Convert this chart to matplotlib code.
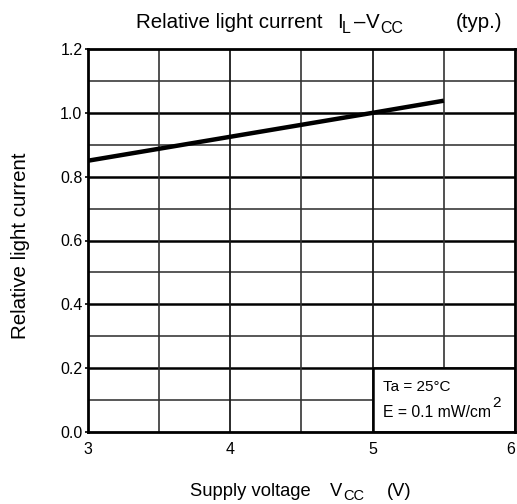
import matplotlib
matplotlib.use("Agg")
import matplotlib.pyplot as plt
from matplotlib.patches import Rectangle

plt.rcParams['font.family'] = ['Liberation Sans', 'DejaVu Sans']

# Data
supply_voltage = [3.0, 4.0, 5.0, 5.5]
relative_current = [0.85, 0.925, 1.0, 1.038]
x_ticks = [3, 4, 5, 6]
y_ticks = [0.0, 0.2, 0.4, 0.6, 0.8, 1.0, 1.2]
y_minor = [0.1, 0.3, 0.5, 0.7, 0.9, 1.1]
x_major_grid = [4, 5]
x_minor_grid = [3.5, 4.5, 5.5]

W, H = 517, 504
fig = plt.figure(figsize=(W / 100, H / 100), dpi=100)
ax = fig.add_axes([88 / W, 1 - 432 / H, 427 / W, 383 / H])
ax.set_xlim(3, 6)
ax.set_ylim(0, 1.2)


def put(x_px, base_px, s, size, **kw):
    """Place text with left edge at x_px and baseline at base_px (from top)."""
    return fig.text(x_px / W, 1 - base_px / H, s, fontsize=size,
                    ha='left', va='baseline', **kw)


for y in y_ticks[1:-1]:
    ax.axhline(y, color='black', lw=1.8, zorder=1)
for y in y_minor:
    ax.axhline(y, color='#4a4a4a', lw=1.3, zorder=1)
for x in x_major_grid:
    ax.axvline(x, color='#1a1a1a', lw=1.3, zorder=1)
for x in x_minor_grid:
    ax.axvline(x, color='#333333', lw=1.2, zorder=1)

ax.add_patch(Rectangle((5, 0), 1, 0.2, facecolor='white', edgecolor='black',
                       lw=1.8, zorder=2))

ax.plot(supply_voltage, relative_current, color='black', lw=3.2, zorder=4,
        solid_capstyle='butt')

ax.set_xticks(x_ticks)
ax.set_xticklabels([str(v) for v in x_ticks])
ax.set_yticks(y_ticks)
ax.set_yticklabels([f'{v:.1f}' for v in y_ticks])
ax.tick_params(axis='both', labelsize=11.5, length=2, width=1.2,
               direction='out', pad=2)
ax.tick_params(axis='x', length=0, pad=7.5)
xl = ax.get_xticklabels()
xl[-1].set_horizontalalignment('right')
xl[-1].set_x(6)
for s in ax.spines.values():
    s.set_linewidth(2.0)
    s.set_zorder(5)

# Annotation box text
put(383, 391, 'Ta = 25°C', 11, zorder=6)
put(383, 417, 'E = 0.1 mW/cm', 11.3, zorder=6)
put(492, 407, '2', 11, zorder=6)

# Title
put(136, 28, 'Relative light current', 14.8)
put(337, 28, 'I', 14.8)
put(342, 33, 'L', 11.5)
put(354, 28, '–', 14.8)
put(366, 28, 'V', 14.8)
put(380, 33, 'CC', 11.5)
put(456, 28, '(typ.)', 14.8)

# X label
put(190, 496, 'Supply voltage', 13.2)
put(330, 496, 'V', 13.2)
put(343, 500, 'CC', 10.5)
put(387, 496, '(V)', 13.2)

# Y label
fig.text(21 / W, 1 - 246 / H, 'Relative light current', fontsize=14.8,
         rotation=90, ha='center', va='center')

fig.savefig('out.png', dpi=100)
